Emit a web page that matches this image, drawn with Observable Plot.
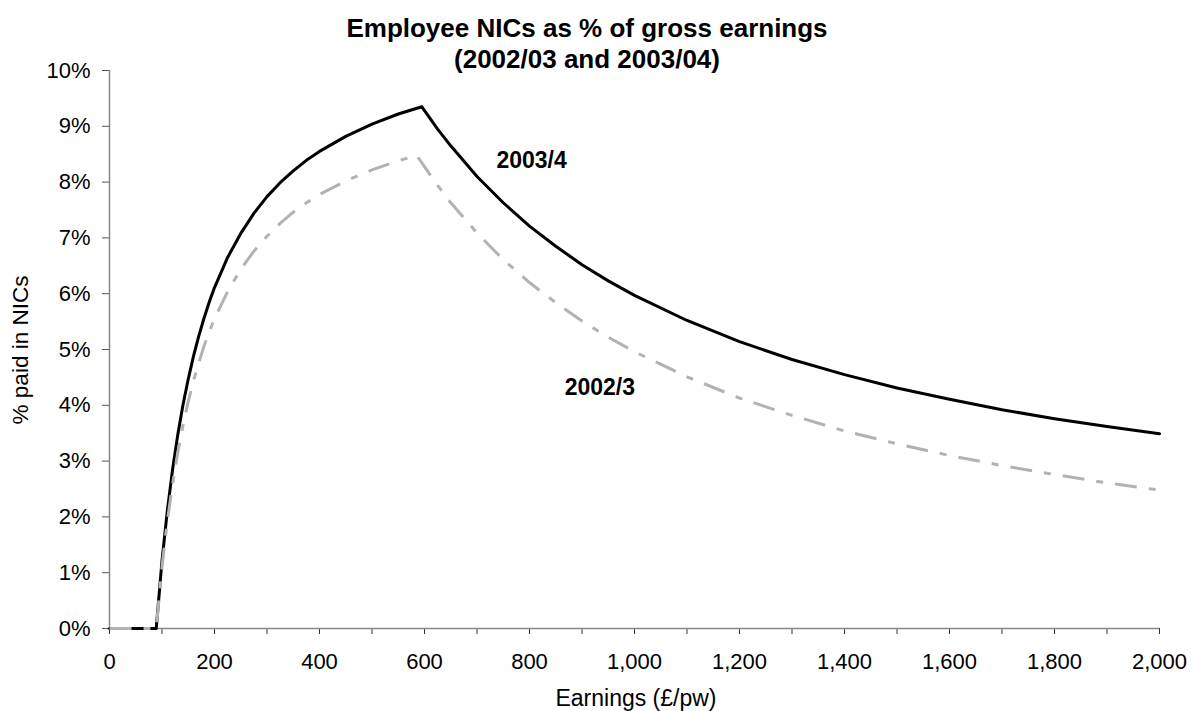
<!DOCTYPE html>
<html>
<head>
<meta charset="utf-8">
<script src="https://cdn.jsdelivr.net/npm/d3@7"></script>
<script src="https://cdn.jsdelivr.net/npm/@observablehq/plot@0.6"></script>
<style>
  html, body { margin: 0; padding: 0; background: #fff; }
  #chart svg { display: block; }
</style>
</head>
<body>
<div id="chart"></div>
<script>
// Employee NICs as a share of gross weekly earnings (£ per week -> % paid)
const earnings0203 = [0, 89, 100, 110, 120, 130, 140, 150, 160, 170, 180, 190, 200,
  225, 250, 275, 300, 325, 350, 375, 400, 450, 500, 550, 585,
  625, 650, 700, 750, 800, 850, 900, 950, 1000,
  1100, 1200, 1300, 1400, 1500, 1600, 1700, 1800, 1900, 2000];
const nic0203 = [0, 0, 1.10, 1.91, 2.58, 3.15, 3.64, 4.07, 4.44, 4.76, 5.06, 5.32, 5.55,
  6.04, 6.44, 6.76, 7.03, 7.26, 7.46, 7.63, 7.78, 8.02, 8.22, 8.38, 8.48,
  7.94, 7.63, 7.09, 6.61, 6.20, 5.84, 5.51, 5.22, 4.96,
  4.51, 4.13, 3.82, 3.54, 3.31, 3.10, 2.92, 2.76, 2.61, 2.48];

const earnings0304 = [0, 89, 100, 110, 120, 130, 140, 150, 160, 170, 180, 190, 200,
  225, 250, 275, 300, 325, 350, 375, 400, 450, 500, 550, 595,
  625, 650, 700, 750, 800, 850, 900, 950, 1000,
  1100, 1200, 1300, 1400, 1500, 1600, 1700, 1800, 1900, 2000];
const nic0304 = [0, 0, 1.21, 2.10, 2.84, 3.47, 4.01, 4.47, 4.88, 5.24, 5.56, 5.85, 6.11,
  6.65, 7.08, 7.44, 7.74, 7.99, 8.20, 8.39, 8.55, 8.82, 9.04, 9.22, 9.35,
  8.95, 8.65, 8.10, 7.63, 7.21, 6.85, 6.52, 6.23, 5.97,
  5.52, 5.14, 4.82, 4.55, 4.31, 4.11, 3.92, 3.76, 3.62, 3.49];

const seriesNames = ["2002/3", "2003/4"];
// where each series name sits (earnings, % paid)
const labelEarnings = [934, 804];
const labelPercent = [4.32, 8.38];

const xTicks = [0, 100, 200, 300, 400, 500, 600, 700, 800, 900, 1000,
  1100, 1200, 1300, 1400, 1500, 1600, 1700, 1800, 1900, 2000];
const yTicks = [0, 1, 2, 3, 4, 5, 6, 7, 8, 9, 10];

const chartTitle = ["Employee NICs as % of gross earnings", "(2002/03 and 2003/04)"];
const xTitle = "Earnings (£/pw)";
const yTitle = "% paid in NICs";

const rows0203 = earnings0203.map((e, i) => ({earnings: e, pct: nic0203[i]}));
const rows0304 = earnings0304.map((e, i) => ({earnings: e, pct: nic0304[i]}));
const labelRows = seriesNames.map((name, i) => ({name, earnings: labelEarnings[i], pct: labelPercent[i]}));

const W = 1192, H = 711;
const font = "'Liberation Sans', Arial, Helvetica, sans-serif";
const axisGrey = "#868686";

const plot = Plot.plot({
  width: W,
  height: H,
  marginLeft: 109,
  marginRight: 33,
  marginTop: 70,
  marginBottom: 83,
  style: {fontFamily: font, fontSize: "22px", color: "#000", background: "#fff", overflow: "visible"},
  x: {domain: [0, 2000]},
  y: {domain: [0, 10]},
  marks: [
    Plot.axisX({
      ticks: xTicks,
      tickSize: 6,
      tickPadding: 19,
      stroke: "#333",
      tickFormat: d => d % 200 === 0 ? d3.format(",")(d) : "",
      label: null,
      fontSize: 22
    }),
    Plot.axisY({
      ticks: yTicks,
      tickSize: 7,
      tickPadding: 12,
      stroke: "#555",
      tickFormat: d => d + "%",
      label: null,
      fontSize: 22
    }),
    Plot.ruleY([0], {stroke: axisGrey, strokeWidth: 1.5}),
    Plot.ruleX([0], {stroke: axisGrey, strokeWidth: 1.5}),
    Plot.line(rows0304, {x: "earnings", y: "pct", stroke: "#000", strokeWidth: 3}),
    Plot.line(rows0203, {x: "earnings", y: "pct", stroke: "#b2b2b2", strokeWidth: 3,
      strokeDasharray: "22,12,7,12", strokeLinecap: "butt"}),
    Plot.text(labelRows, {x: "earnings", y: "pct", text: "name", fontWeight: "bold",
      fontSize: 23, fill: "#000"})
  ]
});

const svg = d3.select(plot);
const titleText = svg.append("text")
  .attr("text-anchor", "middle")
  .attr("font-family", font)
  .attr("font-weight", "bold")
  .attr("font-size", 26)
  .attr("fill", "#000");
chartTitle.forEach((line, i) => {
  titleText.append("tspan").attr("x", 587).attr("y", 37 + i * 31).text(line);
});

svg.append("text")
  .attr("text-anchor", "middle")
  .attr("font-family", font)
  .attr("font-size", 23)
  .attr("x", 636)
  .attr("y", 706)
  .text(xTitle);

svg.append("text")
  .attr("text-anchor", "middle")
  .attr("font-family", font)
  .attr("font-size", 22.5)
  .attr("transform", "translate(28,350) rotate(-90)")
  .text(yTitle);

document.getElementById("chart").append(plot);
</script>
</body>
</html>
